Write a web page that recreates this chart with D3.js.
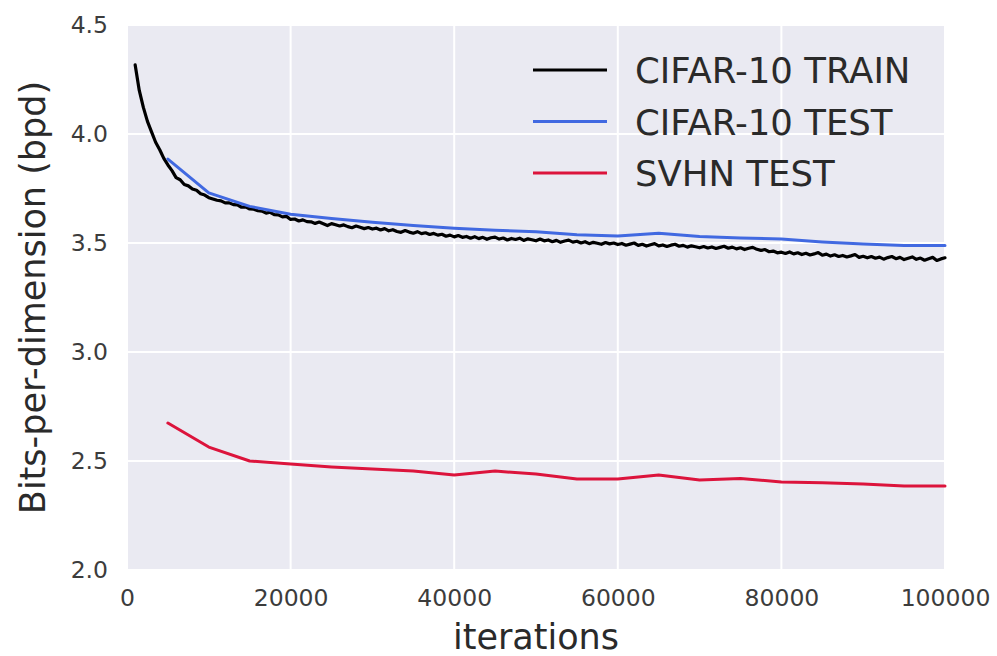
<!DOCTYPE html>
<html>
<head>
<meta charset="utf-8">
<script src="https://cdn.jsdelivr.net/npm/d3@7"></script>
<style>
  html, body { margin: 0; padding: 0; background: #ffffff; }
  svg { display: block; font-family: "DejaVu Sans", sans-serif; }
</style>
</head>
<body>
<svg id="chart" width="997" height="656"></svg>
<script>
// ---------- data ----------
const xTicks = [0, 20000, 40000, 60000, 80000, 100000];
const yTicks = [2.0, 2.5, 3.0, 3.5, 4.0, 4.5];

const seriesNames = ["CIFAR-10 TRAIN", "CIFAR-10 TEST", "SVHN TEST"];
const seriesColors = ["#000000", "#4169e1", "#dc143c"];

// test evaluations (every 5000 iterations)
const testIters = [5000, 10000, 15000, 20000, 25000, 30000, 35000, 40000, 45000, 50000,
                   55000, 60000, 65000, 70000, 75000, 80000, 85000, 90000, 95000, 100000];
const cifarTest = [3.885, 3.730, 3.668, 3.632, 3.612, 3.595, 3.580, 3.568, 3.558, 3.552,
                   3.538, 3.532, 3.545, 3.530, 3.523, 3.518, 3.505, 3.495, 3.488, 3.488];
const svhnTest  = [2.674, 2.564, 2.500, 2.486, 2.473, 2.463, 2.454, 2.436, 2.454, 2.440,
                   2.417, 2.417, 2.436, 2.413, 2.420, 2.404, 2.400, 2.395, 2.385, 2.385];

// training curve (every 500 iterations from 1000 to 100000)
const trainIters = d3.range(1000, 100001, 500);
const cifarTrain = [
  4.317, 4.200, 4.122, 4.058, 4.010, 3.962, 3.928, 3.888, 3.858, 3.832,
  3.800, 3.790, 3.768, 3.762, 3.748, 3.742, 3.726, 3.720, 3.708,
  3.702, 3.696, 3.693, 3.684, 3.684, 3.676, 3.675, 3.664, 3.666, 3.656,
  3.655, 3.648, 3.646, 3.637, 3.641, 3.630, 3.629, 3.620, 3.622, 3.608,
  3.610, 3.601, 3.606, 3.598, 3.597, 3.590, 3.596, 3.588, 3.580, 3.589,
  3.584, 3.578, 3.583, 3.575, 3.570, 3.578, 3.572, 3.566, 3.571, 3.564,
  3.568, 3.560, 3.566, 3.556, 3.561, 3.553, 3.549, 3.557, 3.550, 3.545,
  3.552, 3.543, 3.547, 3.539, 3.544, 3.536, 3.540, 3.531, 3.536, 3.528,
  3.534, 3.526, 3.530, 3.522, 3.529, 3.520, 3.526, 3.517, 3.524, 3.527,
  3.518, 3.523, 3.514, 3.521, 3.516, 3.522, 3.512, 3.519, 3.515, 3.510,
  3.518, 3.510, 3.514, 3.506, 3.512, 3.503, 3.509, 3.513, 3.504, 3.508,
  3.500, 3.506, 3.497, 3.503, 3.499, 3.494, 3.502, 3.496, 3.500, 3.493,
  3.498, 3.490, 3.495, 3.500, 3.489, 3.494, 3.486, 3.492, 3.497, 3.487,
  3.491, 3.484, 3.490, 3.494, 3.485, 3.489, 3.481, 3.487, 3.483, 3.478,
  3.484, 3.477, 3.482, 3.475, 3.480, 3.485, 3.476, 3.481, 3.473, 3.478,
  3.470, 3.476, 3.480, 3.471, 3.466, 3.470, 3.460, 3.463, 3.455, 3.458,
  3.452, 3.459, 3.450, 3.455, 3.447, 3.453, 3.445, 3.450, 3.456, 3.444,
  3.449, 3.440, 3.446, 3.438, 3.443, 3.436, 3.441, 3.447, 3.434, 3.439,
  3.432, 3.438, 3.430, 3.435, 3.426, 3.433, 3.438, 3.428, 3.434, 3.424,
  3.430, 3.436, 3.425, 3.431, 3.421, 3.428, 3.434, 3.420, 3.427, 3.432
];

// ---------- layout ----------
const svg = d3.select("#chart");
const mLeft = 127, mRight = 945, mTop = 25, mBottom = 570;

const x = d3.scaleLinear().domain([0, 100000]).range([mLeft, mRight]);
const y = d3.scaleLinear().domain([2.0, 4.5]).range([mBottom, mTop]);

// background
svg.append("rect")
  .attr("x", mLeft).attr("y", mTop)
  .attr("width", mRight - mLeft).attr("height", mBottom - mTop)
  .attr("fill", "#eaeaf2");

// grid
const grid = svg.append("g");
grid.selectAll(".gx").data(xTicks).join("line")
  .attr("x1", d => x(d)).attr("x2", d => x(d))
  .attr("y1", mTop).attr("y2", mBottom)
  .attr("stroke", "#ffffff").attr("stroke-width", 2);
grid.selectAll(".gy").data(yTicks).join("line")
  .attr("x1", mLeft).attr("x2", mRight)
  .attr("y1", d => y(d)).attr("y2", d => y(d))
  .attr("stroke", "#ffffff").attr("stroke-width", 2);

// axes (labels only, seaborn style)
const xAxis = svg.append("g")
  .attr("transform", `translate(0,${mBottom})`)
  .call(d3.axisBottom(x).tickValues(xTicks).tickFormat(d3.format("d")).tickSize(0).tickPadding(19));
const yAxis = svg.append("g")
  .attr("transform", `translate(${mLeft},0)`)
  .call(d3.axisLeft(y).tickValues(yTicks).tickFormat(d3.format(".1f")).tickSize(0).tickPadding(19));
[xAxis, yAxis].forEach(a => {
  a.select(".domain").remove();
  a.selectAll("text")
    .attr("font-family", "DejaVu Sans, sans-serif")
    .attr("font-size", 23.5)
    .attr("fill", "#3c3c3c");
});

// lines
const line = d3.line().x(d => x(d[0])).y(d => y(d[1]));
const seriesData = [
  d3.zip(trainIters, cifarTrain),
  d3.zip(testIters, cifarTest),
  d3.zip(testIters, svhnTest)
];
svg.append("g").selectAll("path").data(seriesData).join("path")
  .attr("d", line)
  .attr("fill", "none")
  .attr("stroke", (d, i) => seriesColors[i])
  .attr("stroke-width", (d, i) => i === 0 ? 3.2 : 3)
  .attr("stroke-linejoin", "round")
  .attr("stroke-linecap", "round");

// axis titles
svg.append("text")
  .attr("x", (mLeft + mRight) / 2).attr("y", 649)
  .attr("text-anchor", "middle")
  .attr("font-size", 35).attr("fill", "#2a2a2a")
  .text("iterations");
svg.append("text")
  .attr("transform", `translate(45,${(mTop + mBottom) / 2}) rotate(-90)`)
  .attr("text-anchor", "middle")
  .attr("font-size", 35).attr("fill", "#2a2a2a")
  .text("Bits-per-dimension (bpd)");

// legend
const legend = svg.append("g");
const legRows = legend.selectAll("g").data(seriesNames).join("g")
  .attr("transform", (d, i) => `translate(0,${70 + i * 51.5})`);
legRows.append("line")
  .attr("x1", 533).attr("x2", 607).attr("y1", 0).attr("y2", 0)
  .attr("stroke", (d, i) => seriesColors[i]).attr("stroke-width", 3.2);
legRows.append("text")
  .attr("x", 635).attr("y", 13)
  .attr("font-size", 35.5).attr("fill", "#2a2a2a")
  .text(d => d);
</script>
</body>
</html>
